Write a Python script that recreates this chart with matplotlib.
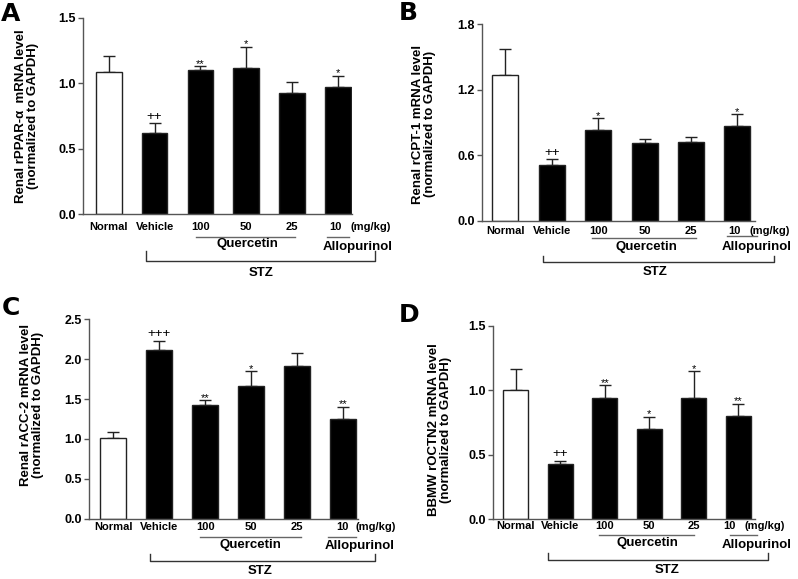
import matplotlib
matplotlib.use("Agg")
import matplotlib.pyplot as plt
from matplotlib.transforms import blended_transform_factory
from matplotlib.lines import Line2D

plt.rcParams['font.family'] = ['Liberation Sans', 'DejaVu Sans']

categories = ["Normal", "Vehicle", "100", "50", "25", "10"]

# Panel A: Renal rPPAR-alpha
a_mean = [1.09, 0.62, 1.10, 1.115, 0.925, 0.975]
a_err = [0.12, 0.075, 0.03, 0.165, 0.085, 0.085]
a_sig = ["", "++", "**", "*", "", "*"]

# Panel B: Renal rCPT-1
b_mean = [1.335, 0.515, 0.833, 0.718, 0.727, 0.873]
b_err = [0.237, 0.05, 0.11, 0.03, 0.045, 0.106]
b_sig = ["", "++", "*", "", "", "*"]

# Panel C: Renal rACC-2
c_mean = [1.01, 2.115, 1.428, 1.66, 1.915, 1.254]
c_err = [0.08, 0.115, 0.055, 0.188, 0.163, 0.15]
c_sig = ["", "+++", "**", "*", "", "**"]

# Panel D: BBMW rOCTN2
d_mean = [1.003, 0.424, 0.941, 0.698, 0.941, 0.804]
d_err = [0.161, 0.026, 0.099, 0.098, 0.21, 0.093]
d_sig = ["", "++", "**", "*", "*", "**"]

W, H = 798, 579
fig = plt.figure(figsize=(W / 100, H / 100), dpi=100)

AX_COL = "#555555"

panels = [
    dict(letter="A", mean=a_mean, err=a_err, sig=a_sig,
         ylabel="Renal rPPAR-\u03b1  mRNA level\n(normalized to GAPDH)",
         box=(83, 352, 18, 214.3), xlim=(-0.563, 5.31), ylim=1.5,
         yticks=[0, 0.5, 1.0, 1.5], yfmt="{:.1f}",
         letter_xy=(1, 21), ylab_xy=(27, 116),
         lab=12.4, qline=22.4, qtext=30, aline=22.4, atext=32.4,
         stz_tick=36.7, stz_line=46.7, stz_text=58.4,
         qx=(1.90, 4.07), qtx=3.02, ax_=(4.757, 5.25), atx=5.43,
         sx=(0.81, 5.81), stx=3.32, mgx=5.27, tenx=4.94),
    dict(letter="B", mean=b_mean, err=b_err, sig=b_sig,
         ylabel="Renal rCPT-1 mRNA level\n(normalized to GAPDH)",
         box=(481.7, 755, 24.3, 221), xlim=(-0.51, 5.38), ylim=1.8,
         yticks=[0, 0.6, 1.2, 1.8], yfmt="{:.1f}",
         letter_xy=(399, 20), ylab_xy=(424, 124),
         lab=9.7, qline=17.3, qtext=25.7, aline=15, atext=26,
         stz_tick=34.8, stz_line=41, stz_text=51,
         qx=(1.86, 4.10), qtx=3.05, ax_=(4.77, 5.42), atx=5.42,
         sx=(0.81, 5.80), stx=3.22, mgx=5.27, tenx=4.93),
    dict(letter="C", mean=c_mean, err=c_err, sig=c_sig,
         ylabel="Renal rACC-2 mRNA level\n(normalized to GAPDH)",
         box=(89, 358.3, 319.3, 518.6), xlim=(-0.53, 5.34), ylim=2.5,
         yticks=[0, 0.5, 1.0, 1.5, 2.0, 2.5], yfmt="{:.1f}",
         letter_xy=(2, 315), ylab_xy=(32, 405),
         lab=8.8, qline=18.2, qtext=26.5, aline=18.2, atext=27.5,
         stz_tick=35.8, stz_line=42.5, stz_text=52.5,
         qx=(1.89, 4.10), qtx=2.98, ax_=(4.68, 5.30), atx=5.36,
         sx=(0.81, 5.70), stx=3.2, mgx=5.28, tenx=4.99),
    dict(letter="D", mean=d_mean, err=d_err, sig=d_sig,
         ylabel="BBMW rOCTN2 mRNA level\n(normalized to GAPDH)",
         box=(492.7, 755, 326, 519), xlim=(-0.52, 5.38), ylim=1.5,
         yticks=[0, 0.5, 1.0, 1.5], yfmt="{:.1f}",
         letter_xy=(399, 322), ylab_xy=(440, 430),
         lab=7, qline=16, qtext=24.3, aline=16, atext=26,
         stz_tick=34.3, stz_line=41, stz_text=51,
         qx=(1.87, 4.01), qtx=2.96, ax_=(4.81, 5.43), atx=5.41,
         sx=(0.73, 5.67), stx=3.40, mgx=5.15, tenx=4.81),
]

for p in panels:
    x0, x1, yt, yb = p["box"]
    ax = fig.add_axes([x0 / W, 1 - yb / H, (x1 - x0) / W, (yb - yt) / H])
    hpx = yb - yt
    xs = list(range(len(categories)))
    colors = ["white"] + ["black"] * (len(categories) - 1)
    ax.bar(xs, p["mean"], width=0.56, color=colors, edgecolor="#222222",
           linewidth=1.0, zorder=2)
    ax.errorbar(xs, p["mean"], yerr=[[0] * len(xs), p["err"]], fmt="none",
                ecolor="#222222", elinewidth=1.0, capsize=4, capthick=1.0, zorder=1)
    for x, m, e, s in zip(xs, p["mean"], p["err"], p["sig"]):
        if s:
            if "+" in s:
                ax.annotate(s, (x, m + e), xytext=(0, 0.5), textcoords="offset points",
                            ha="center", va="bottom", fontsize=9.5)
            else:
                ax.annotate(s, (x, m + e), xytext=(0, -2), textcoords="offset points",
                            ha="center", va="bottom", fontsize=8)
    ax.set_xlim(*p["xlim"])
    ax.set_ylim(0, p["ylim"])
    ax.set_yticks(p["yticks"])
    ax.set_yticklabels([p["yfmt"].format(v) for v in p["yticks"]],
                       fontsize=9, fontweight="bold")
    ax.tick_params(axis="y", length=3.5, width=1, color=AX_COL, pad=1.5)
    ax.set_xticks([])
    for sp in ["top", "right"]:
        ax.spines[sp].set_visible(False)
    for sp in ["left", "bottom"]:
        ax.spines[sp].set_color(AX_COL)
        ax.spines[sp].set_linewidth(1.0)

    tr = blended_transform_factory(ax.transData, ax.transAxes)

    def yy(off):
        return -off / hpx

    for x, c in zip(xs, categories):
        xp = p["tenx"] if c == "10" else x
        ax.text(xp, yy(p["lab"]), c, transform=tr, ha="center", va="center",
                fontsize=8, fontweight="bold")
    ax.text(p["mgx"], yy(p["lab"]), "(mg/kg)", transform=tr, ha="left",
            va="center", fontsize=8, fontweight="bold")
    # Quercetin underline + text
    ax.add_line(Line2D(p["qx"], [yy(p["qline"])] * 2, transform=tr, color="#666666",
                       lw=1.0, clip_on=False))
    ax.text(p["qtx"], yy(p["qtext"]), "Quercetin", transform=tr, ha="center",
            va="center", fontsize=9.5, fontweight="bold")
    ax.add_line(Line2D(p["ax_"], [yy(p["aline"])] * 2, transform=tr, color="#666666",
                       lw=1.0, clip_on=False))
    ax.text(p["atx"], yy(p["atext"]), "Allopurinol", transform=tr, ha="center",
            va="center", fontsize=9.5, fontweight="bold")
    # STZ bracket
    sx0, sx1 = p["sx"]
    ax.add_line(Line2D([sx0, sx0, sx1, sx1],
                       [yy(p["stz_tick"]), yy(p["stz_line"]), yy(p["stz_line"]), yy(p["stz_tick"])],
                       transform=tr, color="#333333", lw=1.0, clip_on=False))
    ax.text(p["stx"], yy(p["stz_text"]), "STZ", transform=tr, ha="center",
            va="center", fontsize=9.5, fontweight="bold")

    lx, ly = p["letter_xy"]
    fig.text(lx / W, 1 - ly / H, p["letter"], ha="left", va="baseline",
             fontsize=18, fontweight="bold", family="DejaVu Sans")
    yx, yy_ = p["ylab_xy"]
    fig.text(yx / W, 1 - yy_ / H, p["ylabel"], rotation=90, ha="center", va="center",
             fontsize=9.5, fontweight="bold", multialignment="center", linespacing=1.1)

fig.savefig("out.png", dpi=100)
